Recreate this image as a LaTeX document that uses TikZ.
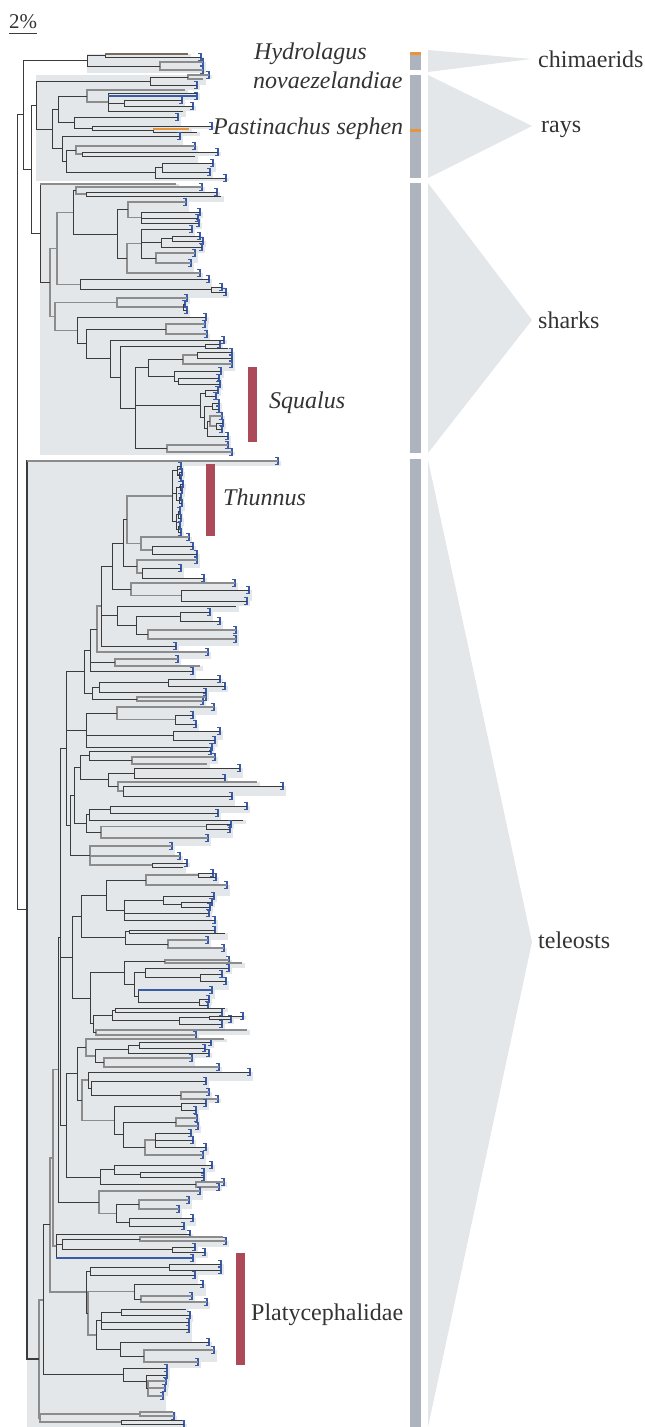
\documentclass[tikz,border=0pt]{standalone}
\usepackage{fontspec}
\setmainfont{Liberation Serif}
\usepackage{xcolor}
\definecolor{shadec}{HTML}{E3E7EA}
\definecolor{branchc}{HTML}{3B3B3B}
\definecolor{branchg}{HTML}{8C8C8C}
\definecolor{tipblue}{HTML}{3A5BA8}
\definecolor{orngc}{HTML}{E8943A}
\definecolor{hydbr}{HTML}{786A5C}
\definecolor{redbar}{HTML}{AD4A5A}
\definecolor{greybar}{HTML}{AEB4BD}
\definecolor{txtc}{HTML}{333333}
\usetikzlibrary{calc}
\pgfdeclarelayer{background}
\pgfsetlayers{background,main}

\tikzset{
  br/.style={draw=branchc, line width=1pt},
  brk/.style={draw=branchc, line width=2pt},
  brg/.style={draw=branchg, line width=1.5pt},
  tipc/.style={draw=tipblue, line width=1.2pt},
  bluec/.style={draw=tipblue, line width=1.2pt},
  pastc/.style={draw=orngc, line width=1.8pt},
  hydc/.style={draw=hydbr, line width=1.8pt},
  shd/.style={fill=shadec},
  lbl/.style={font=\fontsize{24}{29}\selectfont, text=txtc, inner sep=0pt, anchor=base west},
  ilbl/.style={lbl, font=\fontsize{24}{29}\selectfont\itshape},
  redbox/.style={fill=redbar},
  bar/.style={fill=greybar}
}

% shading bands of a group: from the group root to each leaf
\newcommand\setgroup[1]{\gdef\grpx{#1}\gdef\lasty{}}
\newcommand\leafat[3]{%
  \coordinate (#1) at (#2,#3);%
  \ifx\lasty\empty\else
    \begin{pgfonlayer}{background}
      \fill[shd] (\grpx,\lasty) rectangle ({\lastx+3},#3);
    \end{pgfonlayer}
  \fi
  \gdef\lastx{#2}\gdef\lasty{#3}}
\newcommand\closegroup{%
  \begin{pgfonlayer}{background}
    \fill[shd] (\grpx,\lasty) rectangle ({\lastx+3},{\lasty+3});
  \end{pgfonlayer}}
\newcommand\leafn[3]{\leafat{#1}{#2}{#3}}
\newcommand\leafb[3]{\leafat{#1}{#2}{#3}%
  \draw[tipc] ($(#1)+(-3,-3.5)$) -| ($(#1)+(0,3.5)$) -- ++(-3,0);}
% clade: style, name, x, children
\newcommand\cladex[4]{%
  \gdef\ndfirst{}%
  \foreach \c in {#4}{\ifx\ndfirst\empty\xdef\ndfirst{\c}\fi\xdef\ndlast{\c}}%
  \coordinate (ndmid) at ($(\ndfirst)!.5!(\ndlast)$);
  \coordinate (#2) at (ndmid -| #3,0);
  \foreach \c in {#4}{\draw[#1] (#2) |- (\c);}}
\newcommand\clade{\cladex{br}}
\newcommand\cladeg{\cladex{brg}}

\begin{document}
\begin{tikzpicture}[x=1pt,y=-1pt]
\useasboundingbox (0,0) rectangle (645,1427);

% chimaerids
\setgroup{87}
\leafn{hyd}{188}{54}
\leafb{c1}{201}{57}
\clade{cA}{105}{hyd,c1}
\leafb{c2}{203}{62}
\leafb{c3}{203}{70}
\cladeg{cB}{160}{c2,c3}
\clade{chim}{87}{cA,cB}
\closegroup

% rays
\setgroup{36}
\leafb{r1}{209}{75}
\leafn{r2}{203}{79}
\cladeg{rA1}{188}{r1,r2}
\leafb{r3}{197}{85}
\clade{rA}{150}{rA1,r3}
\leafn{r4}{185}{90}
\leafn{r5}{197}{93}
\leafb{r6}{197}{96}
\leafb{r7}{182}{100}
\leafb{r8}{193}{106}
\clade{rB4}{124}{r7,r8}
\leafn{r9}{183}{111}
\clade{rB3}{108}{r5,r6,rB4,r9}
\cladeg{rB2}{87}{r4,rB3}
\leafb{r10}{178}{117}
\leafb{r11}{212}{126}
\leafn{past}{189}{129}
\leafn{r12}{197}{132}
\clade{rC2}{153}{past,r12}
\clade{rC}{92}{r11,rC2}
\clade{rB6}{74}{r10,rC}
\clade{rB1}{58}{rB2,rB6}
\leafb{r13}{180}{136}
\leafb{r14}{195}{146}
\leafb{r15}{218}{152}
\leafn{r16}{195}{156}
\clade{rD3}{82}{r15,r16}
\cladeg{rD2}{76}{r14,rD3}
\leafb{r17}{213}{163}
\leafb{r18}{210}{172}
\clade{rE2}{162}{r17,r18}
\leafb{r19}{226}{178}
\clade{rE}{155}{rE2,r19}
\clade{rD}{66}{rD2,rE}
\clade{rF}{62}{r13,rD}
\clade{rB}{52}{rB1,rF}
\clade{rays}{36}{rA,rB}
\closegroup

% sharks
\setgroup{40}
\leafn{s1}{176}{184}
\leafb{s2}{202}{187}
\leafb{s3}{217}{192}
\leafn{s4}{221}{196}
\clade{sA2}{86}{s3,s4}
\cladeg{sA1}{76}{s2,sA2}
\leafb{s5}{186}{202}
\leafb{s6}{200}{212}
\leafb{s7}{198}{218}
\leafb{s8}{199}{223}
\clade{sB3}{141}{s6,s7,s8}
\cladeg{sB2}{128}{s5,sB3}
\leafb{s9}{192}{229}
\leafb{s10}{200}{236}
\leafb{s11}{203}{241}
\clade{sC4}{172}{s10,s11}
\leafb{s12}{202}{247}
\clade{sC3}{161}{sC4,s12}
\leafb{s13}{195}{253}
\leafb{s14}{191}{263}
\cladeg{sC5}{156}{s13,s14}
\clade{sC2}{141}{s9,sC3,sC5}
\leafb{s15}{200}{273}
\cladeg{sC1}{127}{sC2,s15}
\clade{sB1}{117}{sB2,sC1}
\clade{sA}{73}{sA1,sB1}
\leafb{s16}{209}{279}
\leafb{s17}{222}{287}
\leafb{s18}{226}{292}
\clade{sD2}{211}{s17,s18}
\clade{sD}{80}{s16,sD2}
\cladeg{sE}{57}{sA,sD}
\leafb{s19}{187}{298}
\leafb{s20}{185}{304}
\leafb{s21}{187}{310}
\clade{sF2}{183}{s20,s21}
\cladeg{sF}{117}{s19,sF2}
\leafb{s22}{206}{317}
\leafb{s23}{205}{324}
\leafb{s24}{207}{334}
\cladeg{sG3}{166}{s23,s24}
\leafb{s25}{224}{340}
\leafb{s26}{220}{344}
\leafn{s27}{228}{348}
\clade{sH3}{205}{s26,s27}
\leafb{s28}{232}{352}
\leafb{s29}{232}{358}
\clade{sQ4}{197}{s28,s29}
\leafb{s30}{232}{364}
\cladeg{sQ3}{183}{sQ4,s30}
\leafb{s31}{221}{371}
\leafb{s32}{219}{378}
\leafb{s33}{220}{384}
\clade{sQ6}{178}{s32,s33}
\clade{sQ5}{174}{s31,sQ6}
\clade{sQ2}{148}{sQ3,sQ5}
\leafb{s34}{218}{390}
\leafb{s35}{216}{396}
\clade{sR5}{205}{s34,s35}
\leafb{s36}{219}{403}
\leafb{s37}{219}{409}
\clade{sR6}{212}{s36,s37}
\leafb{s38}{222}{416}
\leafb{s39}{223}{423}
\leafb{s40}{222}{429}
\clade{sR8}{216}{s39,s40}
\cladeg{sR7}{210}{s38,sR8}
\leafb{s41}{228}{436}
\clade{sR9}{207}{sR7,s41}
\clade{sR4}{204}{sR6,sR9}
\clade{sR3}{200}{sR5,sR4}
\leafb{s42}{228}{445}
\leafb{s43}{232}{452}
\cladeg{sS}{167}{s42,s43}
\clade{sQ}{135}{sQ2,sR3,sS}
\clade{sH2}{120}{sH3,sQ}
\clade{sH}{110}{s25,sH2}
\clade{sG2}{86}{sG3,sH}
\clade{sG}{77}{s22,sG2}
\cladeg{sFG}{55}{sF,sG}
\cladeg{sB}{50}{sE,sFG}
\clade{sharks}{40}{s1,sB}
\closegroup

\clade{elas}{31}{rays,sharks}
\clade{chond}{23}{chim,elas}

% teleosts
\setgroup{27}
\leafb{tlong}{278}{461}
\leafb{a1}{181}{466}
\leafb{a2}{182}{472}
\leafb{a3}{181}{478}
\clade{aN3}{179}{a2,a3}
\clade{aN2}{177}{a1,aN3}
\leafb{a4}{183}{484}
\leafb{a5}{182}{490}
\clade{aN5}{180}{a4,a5}
\leafb{a6}{181}{497}
\leafb{a7}{182}{503}
\clade{aN6}{179}{a6,a7}
\clade{aN4}{176}{aN5,aN6}
\leafb{a8}{180}{511}
\leafb{a9}{181}{518}
\clade{aN8}{178}{a8,a9}
\leafb{a10}{180}{526}
\leafb{a11}{181}{532}
\clade{aN9}{178}{a10,a11}
\clade{aN7}{176}{aN8,aN9}
\clade{aN1}{172}{aN2,aN4,aN7}
\leafb{b1}{189}{537}
\leafb{b2}{193}{546}
\leafb{b3}{197}{554}
\clade{bN2}{152}{b2,b3}
\cladeg{bN}{141}{b1,bN2}
\cladeg{u1}{127}{aN1,bN}
\leafb{k1}{197}{560}
\leafb{k2}{181}{568}
\leafb{k3}{204}{578}
\clade{kN2}{142}{k2,k3}
\cladeg{kN}{137}{k1,kN2}
\clade{u2}{123}{u1,kN}
\leafb{dd1}{235}{583}
\leafb{dd2}{249}{590}
\leafb{dd3}{247}{601}
\clade{dA2}{181}{dd2,dd3}
\cladeg{dA}{131}{dd1,dA2}
\clade{u3}{112}{u2,dA}
\leafn{d1}{236}{606}
\leafb{d2}{210}{612}
\leafb{d3}{220}{621}
\clade{dN3}{180}{d2,d3}
\leafb{d4}{236}{630}
\leafb{d5}{236}{639}
\cladeg{dN4}{148}{d4,d5}
\clade{dN2}{136}{dN3,dN4}
\clade{dN}{117}{d1,dN2}
\leafb{e1}{176}{646}
\clade{u4}{101}{u3,dN,e1}
\leafb{f1}{208}{652}
\cladeg{u5}{97}{u4,f1}
\leafb{g1}{178}{659}
\leafn{g2}{200}{666}
\cladeg{gN}{115}{g1,g2}
\leafb{h1}{193}{671}
\clade{u6}{90}{u5,gN,h1}
\leafb{i1}{220}{679}
\leafb{i2}{225}{686}
\clade{iN2}{168}{i1,i2}
\leafb{i3}{206}{692}
\clade{iN1}{99}{iN2,i3}
\leafb{i4}{206}{697}
\leafb{i5}{203}{701}
\cladeg{iN4}{137}{i4,i5}
\clade{iN}{92}{iN1,iN4}
\clade{u7}{84}{u6,iN}
\leafb{j1}{214}{707}
\leafb{j2}{193}{715}
\leafb{j3}{196}{724}
\clade{jN2}{175}{j2,j3}
\cladeg{jN}{117}{j1,jN2}
\leafb{j4}{220}{731}
\leafb{j5}{215}{740}
\clade{kkN}{173}{j4,j5}
\leafb{j6}{212}{747}
\clade{jkN}{86}{jN,kkN,j6}
\leafb{l1}{211}{751}
\leafb{l2}{215}{757}
\leafn{l3}{207}{764}
\cladeg{lN2}{132}{l2,l3}
\clade{lN}{89}{l1,lN2}
\leafb{m1}{240}{768}
\leafb{m2}{225}{778}
\clade{mN2}{134}{m1,m2}
\leafn{m3}{257}{782}
\leafb{m4}{283}{786}
\leafb{m5}{232}{796}
\clade{mN4}{123}{m4,m5}
\cladeg{mN3}{118}{m3,mN4}
\clade{mN}{108}{mN2,mN3}
\clade{lmN}{80}{lN,mN}
\leafb{n1}{247}{806}
\leafb{n2}{218}{813}
\clade{nN3}{110}{n1,n2}
\leafn{n3}{243}{820}
\clade{nN2}{89}{nN3,n3}
\leafb{n4}{231}{824}
\leafb{n5}{230}{829}
\clade{nN5}{206}{n4,n5}
\leafb{n6}{208}{838}
\cladeg{nN4}{101}{nN5,n6}
\clade{nN}{86}{nN2,nN4}
\clade{lmnN}{74}{lmN,nN}
\leafb{o1}{172}{846}
\leafb{o2}{180}{856}
\leafb{o3}{187}{863}
\leafn{o4}{183}{867}
\clade{oN2}{152}{o3,o4}
\cladeg{oN}{90}{o1,o2,oN2}
\clade{lmnoN}{70}{lmnN,oN}
\clade{u8}{66}{u7,jkN,lmnoN}
\leafb{p1}{213}{873}
\leafb{p2}{216}{877}
\clade{pN3}{198}{p1,p2}
\leafb{p3}{227}{885}
\cladeg{pN2}{146}{pN3,p3}
\leafb{p4}{214}{896}
\leafb{p5}{212}{902}
\leafb{p6}{210}{907}
\clade{pN6}{181}{p5,p6}
\clade{pN5}{163}{p4,pN6}
\leafb{p7}{209}{913}
\leafb{p8}{215}{920}
\clade{pN4}{124}{pN5,p7,p8}
\clade{pN}{106}{pN2,pN4}
\leafb{q1}{215}{930}
\leafn{q2}{225}{933}
\clade{qN2}{129}{q1,q2}
\leafb{q3}{208}{940}
\leafb{q4}{224}{948}
\cladeg{qN3}{168}{q3,q4}
\clade{qN}{125}{qN2,qN3}
\clade{pqN}{81}{pN,qN}
\leafb{rr1}{229}{960}
\leafn{rr2}{242}{963}
\cladeg{rrN2}{165}{rr1,rr2}
\leafb{rr3}{229}{968}
\leafb{rr4}{222}{974}
\leafb{rr5}{226}{981}
\clade{rrN5}{200}{rr4,rr5}
\clade{rrN4}{145}{rr3,rrN5}
\leafb{rr6}{212}{990}
\leafb{rr7}{209}{999}
\leafb{rr8}{208}{1005}
\clade{rrN7}{199}{rr7,rr8}
\clade{rrN6}{138}{rr6,rrN7}
\clade{rrN3}{134}{rrN4,rrN6}
\clade{rrN}{124}{rrN2,rrN3}
\leafn{ss1}{225}{1008}
\leafb{ss2}{222}{1012}
\clade{ssN3}{115}{ss1,ss2}
\leafb{ss3}{243}{1016}
\leafb{ss4}{231}{1019}
\clade{ssN5}{209}{ss3,ss4}
\leafb{ss5}{222}{1024}
\clade{ssN4}{179}{ssN5,ss5}
\clade{ssN2}{112}{ssN3,ssN4}
\leafn{ss6}{247}{1030}
\leafb{ss7}{196}{1035}
\cladeg{ssN6}{96}{ss6,ss7}
\clade{ssN}{93}{ssN2,ssN6}
\clade{rsN}{90}{rrN,ssN}
\clade{lA}{72}{pqN,rsN}
\leafn{tt1}{224}{1039}
\leafb{tt2}{211}{1042}
\leafb{tt3}{205}{1048}
\clade{ttN4}{139}{tt2,tt3}
\leafb{tt4}{209}{1053}
\clade{ttN3}{128}{ttN4,tt4}
\leafb{tt5}{192}{1058}
\leafb{tt6}{219}{1067}
\cladeg{ttN5}{104}{tt5,tt6}
\clade{ttN2}{95}{ttN3,ttN5}
\cladeg{ttN}{86}{tt1,ttN2}
\leafb{uu1}{250}{1072}
\leafb{uu2}{206}{1081}
\leafb{uu3}{209}{1092}
\leafb{uu4}{218}{1099}
\cladeg{uuN3}{181}{uu3,uu4}
\clade{uuN2}{91}{uu2,uuN3}
\clade{uuN}{88}{uu1,uuN2}
\leafb{vv1}{206}{1103}
\leafb{vv2}{196}{1110}
\clade{vvN2}{181}{vv1,vv2}
\leafb{vv3}{197}{1118}
\leafb{vv4}{198}{1126}
\cladeg{vvN4}{176}{vv3,vv4}
\leafb{vv5}{191}{1133}
\leafb{vv6}{193}{1140}
\leafb{vv7}{206}{1147}
\clade{vvN6}{155}{vv5,vv6,vv7}
\leafb{vv8}{203}{1155}
\cladeg{vvN5}{145}{vvN6,vv8}
\clade{vvN3}{123}{vvN4,vvN5}
\clade{vvN}{114}{vvN2,vvN3}
\cladeg{uvN}{82}{uuN,vvN}
\clade{tuvN}{77}{ttN,uvN}
\leafb{ww1}{212}{1165}
\leafb{ww2}{204}{1172}
\leafb{ww3}{204}{1177}
\clade{wwN3}{140}{ww2,ww3}
\clade{wwN2}{114}{ww1,wwN3}
\leafb{ww4}{224}{1182}
\leafb{ww5}{219}{1187}
\cladeg{wwN4}{196}{ww4,ww5}
\clade{wwN}{100}{wwN2,wwN4}
\clade{lB}{66}{tuvN,wwN}
\clade{L1}{60}{u8,lA,lB}
\leafb{xx1}{200}{1191}
\leafb{xx2}{189}{1200}
\leafb{xx3}{179}{1209}
\cladeg{xxN3}{139}{xx2,xx3}
\leafb{xx4}{193}{1218}
\leafb{xx5}{184}{1226}
\clade{xxN4}{129}{xx4,xx5}
\clade{xxN2}{116}{xxN3,xxN4}
\cladeg{xxN}{99}{xx1,xxN2}
\clade{L2}{58}{L1,xxN}
\leafb{yy1}{190}{1234}
\leafn{yy2}{223}{1237}
\leafb{yy3}{226}{1241}
\cladeg{yyN2}{140}{yy2,yy3}
\leafb{yy4}{195}{1247}
\leafb{yy5}{205}{1252}
\clade{yyN3}{172}{yy4,yy5}
\clade{yyN5}{62}{yyN2,yyN3}
\leafb{yy6}{193}{1258}
\clade{yyN}{56}{yy1,yyN5,yy6}
\cladeg{L3}{53}{L2,yyN}
\leafb{z1}{221}{1264}
\leafb{z2}{221}{1270}
\clade{zN2}{169}{z1,z2}
\leafb{z3}{195}{1275}
\clade{zN1}{90}{zN2,z3}
\leafb{z4}{203}{1284}
\leafb{z5}{192}{1296}
\leafb{z6}{207}{1302}
\cladeg{zN4}{141}{z5,z6}
\clade{zN3}{134}{z4,zN4}
\leafn{z7}{186}{1309}
\leafb{z8}{190}{1315}
\clade{zN6}{121}{z7,z8}
\leafb{z9}{189}{1322}
\leafb{z10}{189}{1329}
\clade{zN5}{101}{zN6,z9,z10}
\leafb{z11}{209}{1342}
\leafb{z12}{214}{1350}
\leafb{z13}{198}{1362}
\cladeg{zN9}{144}{z12,z13}
\clade{zN8}{120}{z11,zN9}
\clade{zN7}{96}{zN5,zN8}
\cladeg{zN10}{88}{zN3,zN7}
\clade{zgrp}{86}{zN1,zN10}
\cladeg{L4}{50}{L3,zgrp}
\leafb{z14}{167}{1368}
\leafb{z15}{167}{1375}
\leafb{z16}{166}{1381}
\leafb{z17}{165}{1388}
\leafb{z18}{163}{1396}
\cladeg{zN13}{148}{z16,z17,z18}
\clade{zN12}{146}{z15,zN13}
\clade{zN11}{123}{z14,zN12}
\clade{L5}{43}{L4,zN11}
\leafn{z19}{173}{1412}
\leafb{z20}{174}{1416}
\cladeg{zN15}{140}{z19,z20}
\leafn{z21}{182}{1420}
\leafb{z22}{184}{1424}
\clade{zN16}{121}{z21,z22}
\cladeg{zN14}{40}{zN15,zN16}
\cladeg{tB}{39}{L5,zN14}
\cladex{brk}{tele}{27}{tlong,tB}
\closegroup

\clade{root}{17}{chond,tele}

% coloured branches
\draw[hydc] (hyd -| cA) -- (hyd);
\draw[pastc] (past -| rC2) -- (past);
\draw[bluec] (r6 -| rB3) -- (r6);
\draw[bluec] (rr6 -| rrN6) -- (rr6);
\draw[bluec] (yy6 -| yyN) -- (yy6);
\draw[brg] (tlong -| tele) -- (tlong);
\draw[brg] (s1 -| sharks) -- (s1);

% scale
\node[lbl, font=\fontsize{21}{25}\selectfont] (scl) at (9,28) {2\%};
\draw[br] ([yshift=-5pt]scl.base west) -- ([yshift=-5pt]scl.base east);

% taxon labels
\node[ilbl] (hydlbl) at (254,59) {Hydrolagus};
\node[ilbl] (hydlbl2) at (253,88) {novaezelandiae};
\node[ilbl] (pastlbl) at (213,134) {Pastinachus sephen};
\fill[redbox] (248,367) rectangle (257,442);
\node[ilbl] (squallbl) at (269,408) {Squalus};
\fill[redbox] (206,464) rectangle (215,536);
\node[ilbl] (thunlbl) at (223,505) {Thunnus};
\fill[redbox] (236,1253) rectangle (245,1365);
\node[lbl] (platylbl) at (251,1320) {Platycephalidae};

% group bars
\fill[bar] (410,52) rectangle (421,70);
\fill[bar] (410,75) rectangle (421,178);
\fill[bar] (410,183) rectangle (421,453);
\fill[bar] (410,459) rectangle (421,1427);
\fill[orngc] (410,52) rectangle (421,55);
\fill[orngc] (410,129) rectangle (421,131.5);

% group wedges
\fill[shd] (428,50) -- (531,59) -- (428,72) -- cycle;
\fill[shd] (428,75) -- (532,126) -- (428,178) -- cycle;
\fill[shd] (428,183) -- (532,320) -- (428,453) -- cycle;
\fill[shd] (428,460) -- (532,942) -- (428,1427) -- cycle;
\node[lbl] (chimlbl) at (538,67) {chimaerids};
\node[lbl] (raylbl) at (541,132) {rays};
\node[lbl] (sharklbl) at (538,328) {sharks};
\node[lbl] (telelbl) at (538,948) {teleosts};
\end{tikzpicture}
\end{document}
